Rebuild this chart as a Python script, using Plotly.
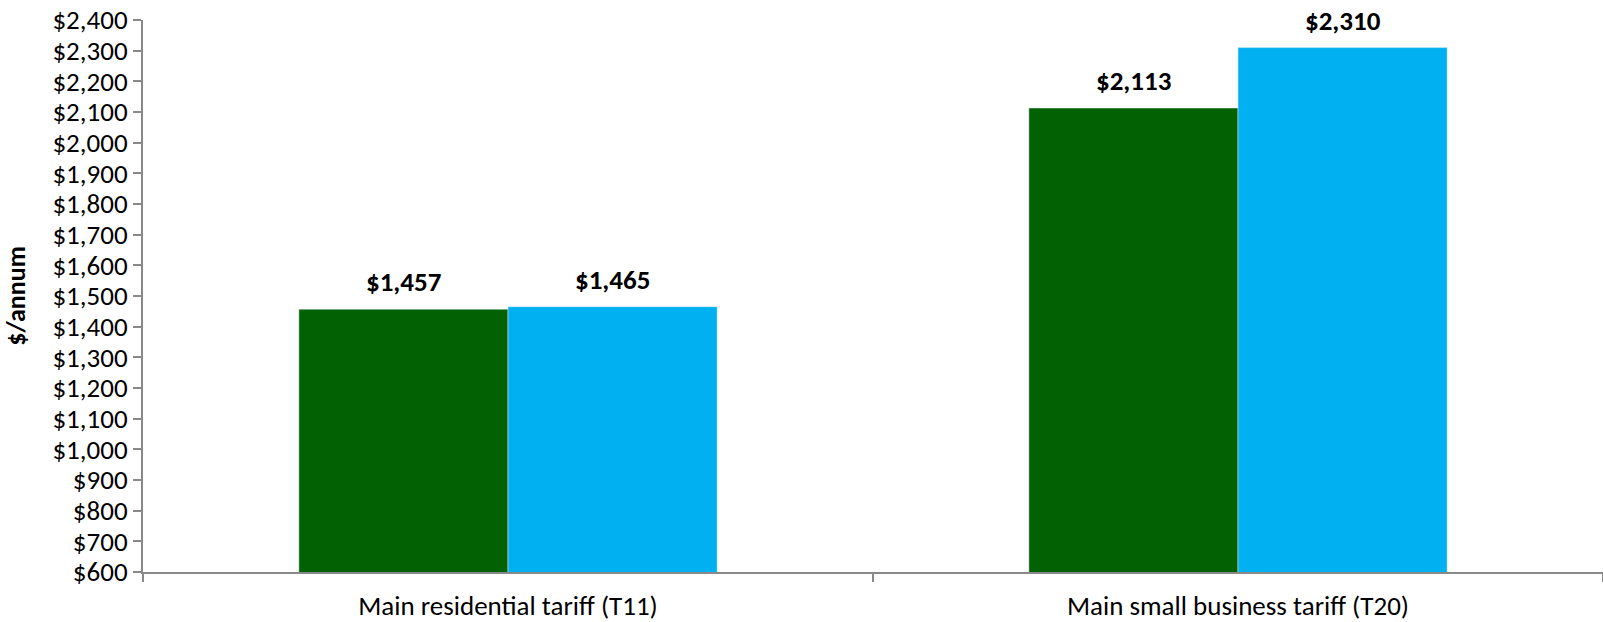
import plotly.graph_objects as go

categories = ["Main residential tariff (T11)", "Main small business tariff (T20)"]
series_a = [1457, 2113]
series_b = [1465, 2310]
tick_vals = list(range(600, 2401, 100))
tick_text = [f"${v:,}" for v in tick_vals]

font_family = "Carlito, Calibri, Lato, 'Open Sans', sans-serif"

fig = go.Figure()
fig.add_trace(go.Bar(x=categories, y=series_a, name="Series A", marker_color="#026102"))
fig.add_trace(go.Bar(x=categories, y=series_b, name="Series B", marker_color="#00B0F0"))

# data labels positioned via data coordinates, shifted to the grouped bar centres
bar_px = (1603 - 143) / len(categories) * (1 - 0.427) / 2
for shift, vals in ((-bar_px / 2, series_a), (bar_px / 2, series_b)):
    for c, v in zip(categories, vals):
        fig.add_annotation(x=c, y=v, xref="x", yref="y", text=f"<b>${v:,}</b>",
                           showarrow=False, xshift=shift, yshift=9, yanchor="bottom",
                           font=dict(size=27, color="black", family=font_family))

fig.update_layout(
    width=1603, height=622,
    margin=dict(l=143, r=0, t=20, b=50),
    barmode="group", bargap=0.427, bargroupgap=0,
    plot_bgcolor="white", paper_bgcolor="white",
    showlegend=False,
    font=dict(family=font_family, size=26, color="black"),
    yaxis=dict(range=[600, 2400], tickvals=tick_vals, ticktext=tick_text,
               showgrid=False, showline=True, linecolor="#898989", linewidth=2,
               ticks="outside", ticklen=8, tickcolor="#898989", tickwidth=2,
               tickfont=dict(size=27),
               title=dict(text="<b>$/annum</b>", font=dict(size=26), standoff=19),
               zeroline=False),
    xaxis=dict(showline=True, linecolor="#898989", linewidth=2,
               ticks="outside", tickson="boundaries", ticklen=8, tickcolor="#898989", tickwidth=2,
               tickfont=dict(size=27), ticklabelstandoff=9,
               showgrid=False),
)

fig.write_html("out.html")
